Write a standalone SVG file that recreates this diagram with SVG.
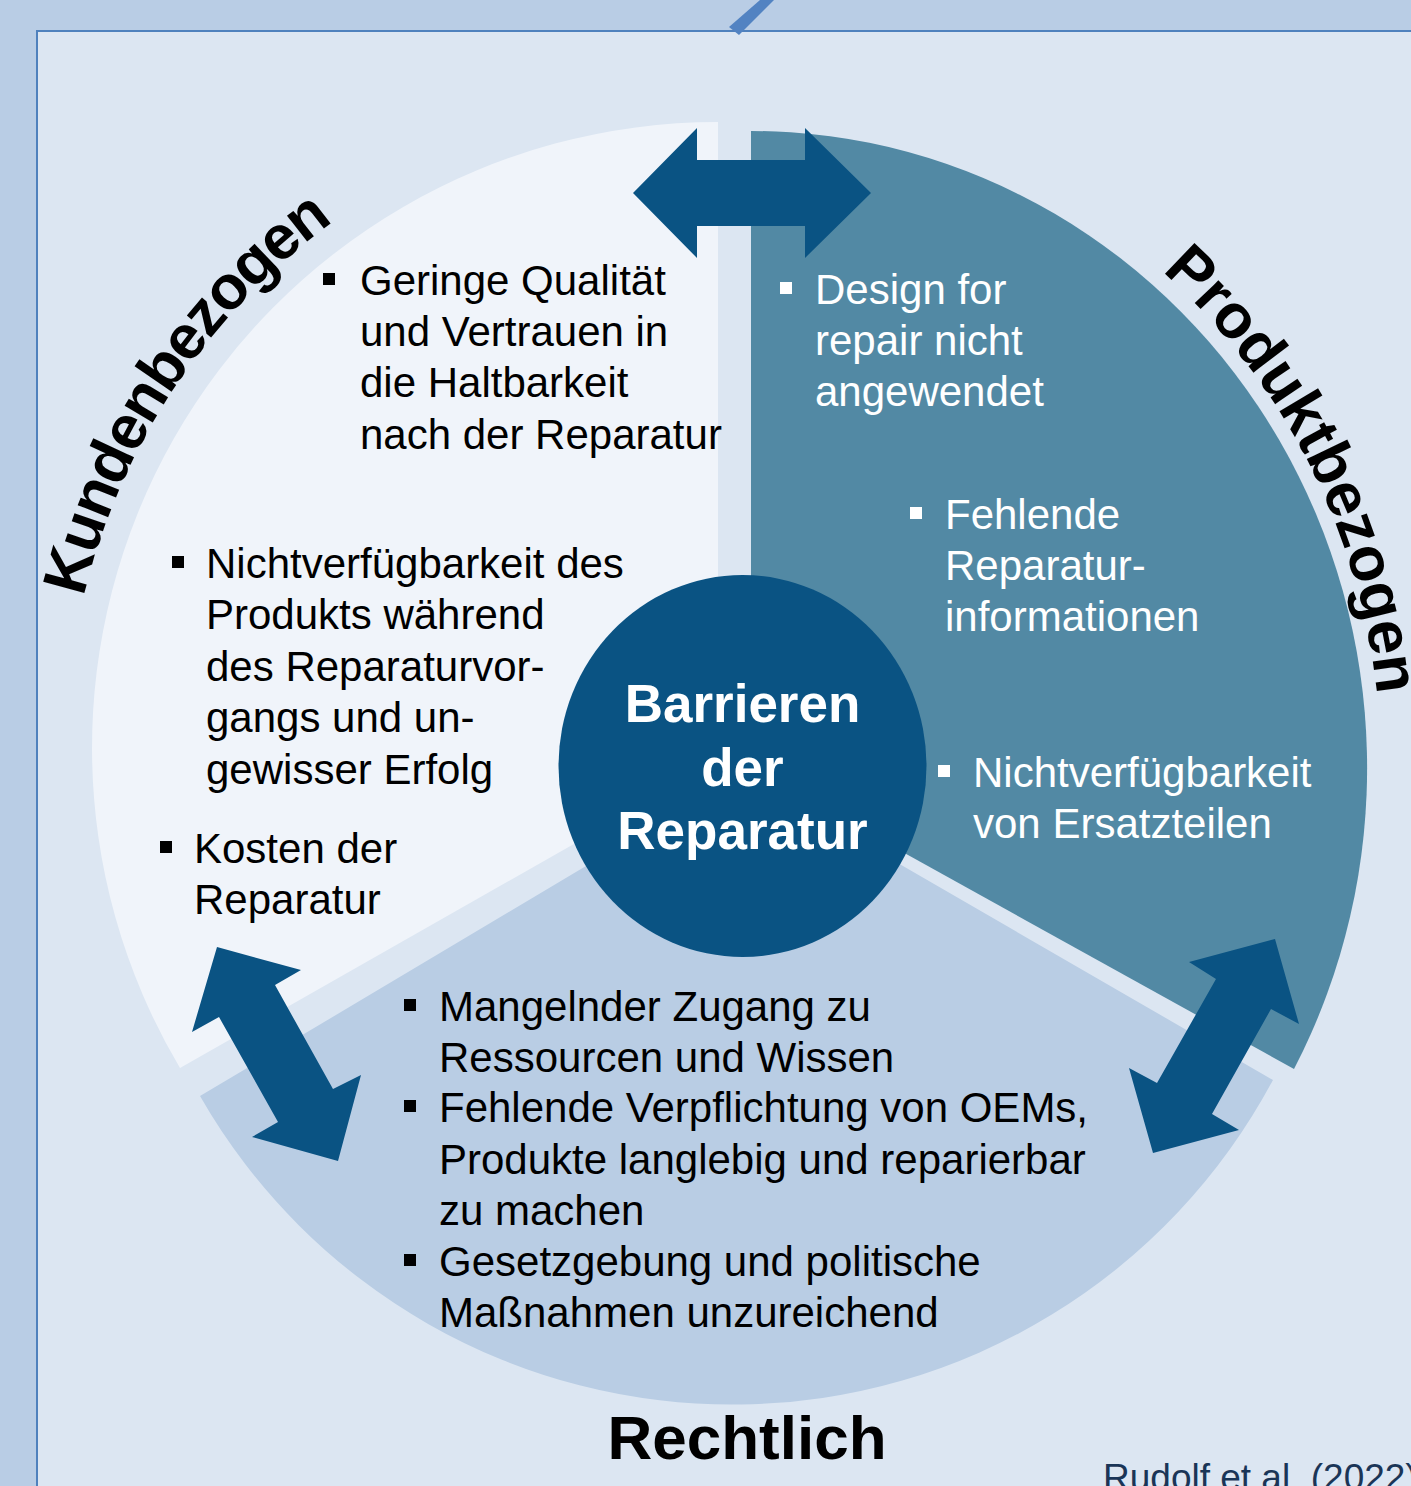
<svg xmlns="http://www.w3.org/2000/svg" width="1411" height="1486" viewBox="0 0 1411 1486">
  <style>
    .t { font-family: "Liberation Sans", Arial, sans-serif; font-size: 42px; }
    .dk { fill: #000000; }
    .wt { fill: #ffffff; }
    .hd { font-family: "Liberation Sans", Arial, sans-serif; font-size: 62px; font-weight: bold; fill: #000000; }
    .ctr { font-family: "Liberation Sans", Arial, sans-serif; font-size: 53px; font-weight: bold; fill: #ffffff; text-anchor: middle; }
    .arrow { fill: #0a5383; }
    .bul-dk { fill: #000000; }
    .bul-wt { fill: #ffffff; }
  </style>
  <defs>
    <path id="arcKunden" d="M83.7,596.9 A652,652 0 0 1 604.8,105.9"/>
    <path id="arcProdukt" d="M1161.8,271.4 A630,655 0 0 1 1296.6,1095.5"/>
  </defs>

  <g id="background">
    <rect x="0" y="0" width="1411" height="1486" fill="#b9cde5"/>
    <rect x="37" y="31" width="1400" height="1480" fill="#dce6f2" stroke="#4f81bd" stroke-width="2"/>
    <polygon points="729,27 760,0 774,0 739,35" fill="#5283c2"/>
  </g>

  <g id="sector-kundenbezogen">
    <path d="M718,122 L718,762 L180,1068 A626,626 0 0 1 718,122 Z" fill="#f0f4fa"/>
  </g>
  <g id="sector-produktbezogen">
    <path d="M751,131 A616,637 0 0 1 1294,1069 L751,768 Z" fill="#5289a4"/>
  </g>
  <g id="sector-rechtlich">
    <path d="M742,773 L200,1096 A613,613 0 0 0 1273,1080 Z" fill="#b9cde4"/>
  </g>

  <g id="connectors">
    <polygon class="arrow" points="633,193 697,128 697,160 805,160 805,128 871,193 805,258 805,226 697,226 697,258"/>
    <polygon class="arrow" points="217,947 301,970 275,985 333,1089 361,1075 338,1161 252,1137 278,1122 219,1017 192,1032"/>
    <polygon class="arrow" points="1275,939 1299,1024 1271,1009 1212,1114 1239,1130 1153,1153 1129,1068 1157,1083 1216,979 1189,962"/>
  </g>

  <g id="node-center">
    <ellipse cx="742.5" cy="766" rx="184" ry="191" fill="#0a5383"/>
    <text class="ctr" x="742.5" y="722">Barrieren</text>
    <text class="ctr" x="742.5" y="786">der</text>
    <text class="ctr" x="742.5" y="849">Reparatur</text>
  </g>

  <g id="label-kundenbezogen">
    <text class="hd" letter-spacing="-1.8"><textPath href="#arcKunden">Kundenbezogen</textPath></text>
  </g>
  <g id="label-produktbezogen">
    <text class="hd"><textPath href="#arcProdukt">Produktbezogen</textPath></text>
  </g>
  <g id="label-rechtlich">
    <text class="hd" x="747" y="1459" text-anchor="middle">Rechtlich</text>
  </g>

  <g id="items-kunden">
    <rect class="bul-dk" x="323" y="273" width="12" height="12"/>
    <text class="t dk" x="360" y="295">Geringe Qualität</text>
    <text class="t dk" x="360" y="346">und Vertrauen in</text>
    <text class="t dk" x="360" y="397">die Haltbarkeit</text>
    <text class="t dk" x="360" y="449">nach der Reparatur</text>

    <rect class="bul-dk" x="172" y="556" width="12" height="12"/>
    <text class="t dk" x="206" y="578">Nichtverfügbarkeit des</text>
    <text class="t dk" x="206" y="629">Produkts während</text>
    <text class="t dk" x="206" y="681">des Reparaturvor-</text>
    <text class="t dk" x="206" y="732">gangs und un-</text>
    <text class="t dk" x="206" y="784">gewisser Erfolg</text>

    <rect class="bul-dk" x="160" y="841" width="12" height="12"/>
    <text class="t dk" x="194" y="863">Kosten der</text>
    <text class="t dk" x="194" y="914">Reparatur</text>
  </g>

  <g id="items-produkt">
    <rect class="bul-wt" x="780" y="282" width="12" height="12"/>
    <text class="t wt" x="815" y="304">Design for</text>
    <text class="t wt" x="815" y="355">repair nicht</text>
    <text class="t wt" x="815" y="406">angewendet</text>

    <rect class="bul-wt" x="910" y="507" width="12" height="12"/>
    <text class="t wt" x="945" y="529">Fehlende</text>
    <text class="t wt" x="945" y="580">Reparatur-</text>
    <text class="t wt" x="945" y="631">informationen</text>

    <rect class="bul-wt" x="938" y="765" width="12" height="12"/>
    <text class="t wt" x="973" y="787">Nichtverfügbarkeit</text>
    <text class="t wt" x="973" y="838">von Ersatzteilen</text>
  </g>

  <g id="items-recht">
    <rect class="bul-dk" x="404" y="999" width="12" height="12"/>
    <text class="t dk" x="439" y="1021">Mangelnder Zugang zu</text>
    <text class="t dk" x="439" y="1072">Ressourcen und Wissen</text>
    <rect class="bul-dk" x="404" y="1100" width="12" height="12"/>
    <text class="t dk" x="439" y="1122">Fehlende Verpflichtung von OEMs,</text>
    <text class="t dk" x="439" y="1174">Produkte langlebig und reparierbar</text>
    <text class="t dk" x="439" y="1225">zu machen</text>
    <rect class="bul-dk" x="404" y="1254" width="12" height="12"/>
    <text class="t dk" x="439" y="1276">Gesetzgebung und politische</text>
    <text class="t dk" x="439" y="1327">Maßnahmen unzureichend</text>
  </g>

  <g id="citation">
    <text x="1103" y="1490" font-family="'Liberation Sans', Arial, sans-serif" font-size="37" fill="#1a3557">Rudolf et al. (2022)</text>
  </g>
</svg>
